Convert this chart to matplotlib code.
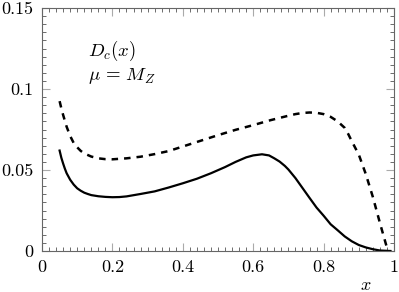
import matplotlib
matplotlib.use("Agg")
import matplotlib.pyplot as plt
from matplotlib.ticker import MultipleLocator, FixedLocator

plt.rcParams['mathtext.fontset'] = 'cm'
plt.rcParams['font.family'] = ['serif']
plt.rcParams['font.serif'] = ['cmr10', 'DejaVu Serif']
plt.rcParams['axes.formatter.use_mathtext'] = True

# Solid curve
x_solid = [0.05, 0.055, 0.06, 0.065, 0.07, 0.08, 0.09, 0.10, 0.11, 0.12, 0.13, 0.14,
           0.16, 0.18, 0.20, 0.22, 0.24, 0.28, 0.32, 0.36, 0.40, 0.44, 0.48, 0.52,
           0.55, 0.58, 0.60, 0.625, 0.645, 0.66, 0.675, 0.69, 0.70, 0.72, 0.74,
           0.76, 0.78, 0.80, 0.82, 0.84, 0.86, 0.88, 0.90, 0.92, 0.94, 0.96, 0.99]
y_solid = [0.0620, 0.0575, 0.0540, 0.0508, 0.0480, 0.0440, 0.0410, 0.0387, 0.0372,
           0.0360, 0.0352, 0.0345, 0.0338, 0.0334, 0.0332, 0.0333, 0.0337, 0.0352,
           0.0368, 0.0392, 0.0418, 0.0446, 0.0480, 0.0518, 0.0550, 0.0578, 0.0590,
           0.0597, 0.0590, 0.0572, 0.0552, 0.0525, 0.0503, 0.0450, 0.0389, 0.0328,
           0.0268, 0.0218, 0.0165, 0.0128, 0.0090, 0.0060, 0.0037, 0.0022, 0.0011,
           0.0003, 0.0]

# Dashed curve
x_dash = [0.05, 0.055, 0.06, 0.07, 0.08, 0.09, 0.10, 0.11, 0.12, 0.14, 0.16, 0.18,
          0.20, 0.24, 0.28, 0.32, 0.36, 0.40, 0.45, 0.50, 0.55, 0.60, 0.65, 0.70,
          0.72, 0.74, 0.76, 0.78, 0.80, 0.82, 0.84, 0.86, 0.87, 0.88, 0.90, 0.92,
          0.94, 0.96, 0.98]
y_dash = [0.0925, 0.0880, 0.0840, 0.0767, 0.0710, 0.0667, 0.0640, 0.0618, 0.0602,
          0.0583, 0.0572, 0.0567, 0.0566, 0.0572, 0.0582, 0.0598, 0.0617, 0.0645,
          0.0680, 0.0715, 0.0748, 0.0777, 0.0808, 0.0835, 0.0845, 0.0852, 0.0855,
          0.0853, 0.0845, 0.0828, 0.0800, 0.0760, 0.0722, 0.0678, 0.0595, 0.0474,
          0.0333, 0.0173, 0.0020]

x_ticks = [0, 0.2, 0.4, 0.6, 0.8, 1]
x_ticklabels = ['0', '0.2', '0.4', '0.6', '0.8', '1']
y_ticks = [0, 0.05, 0.1, 0.15]
y_ticklabels = ['0', '0.05', '0.1', '0.15']

fig = plt.figure(figsize=(3.99, 2.92), dpi=100)
ax = fig.add_axes([42/399, 41/292, 352/399, 243/292])

ax.plot(x_solid, y_solid, color='black', lw=1.6, solid_joinstyle='round')
ax.plot(x_dash, y_dash, color='black', lw=1.8, linestyle=(0, (2.6, 2.4)))

ax.set_xlim(0, 1)
ax.set_ylim(0, 0.15)
ax.xaxis.set_major_locator(FixedLocator(x_ticks))
ax.yaxis.set_major_locator(FixedLocator(y_ticks))
ax.set_xticklabels(x_ticklabels, fontsize=13)
ax.set_yticklabels(y_ticklabels, fontsize=13)
ax.xaxis.set_minor_locator(MultipleLocator(0.02))
ax.yaxis.set_minor_locator(MultipleLocator(0.005))

ax.tick_params(which='both', direction='in', top=True, right=True)
ax.tick_params(which='major', length=6, width=0.8, color='#aaaaaa', pad=6)
ax.tick_params(which='minor', length=3, width=0.6, color='#555555')
for s in ax.spines.values():
    s.set_color('#666666')
    s.set_linewidth(0.8)

ax.text(0.13, 0.1205, r'$D_c(x)$', fontsize=13.5)
ax.text(0.13, 0.1055, r'$\mu\,=\,M_Z$', fontsize=13.5)
fig.text(366/399, 1 - 285/292, r'$x$', fontsize=13, ha='center', va='center')

fig.savefig('out.png', dpi=100)
